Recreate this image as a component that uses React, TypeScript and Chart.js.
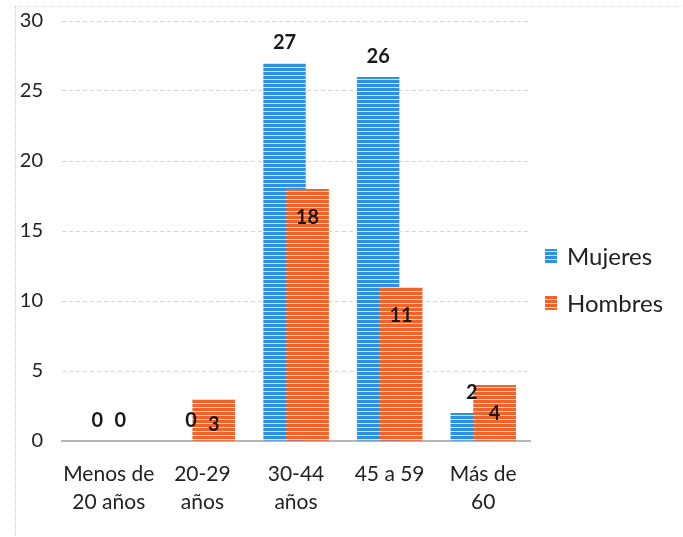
import React, { useEffect, useRef } from "react";
import { Chart, registerables } from "chart.js";

Chart.register(...registerables);

// Age groups (multi-line tick labels)
const categories: string[][] = [
  ["Menos de", "20 años"],
  ["20-29", "años"],
  ["30-44", "años"],
  ["45 a 59"],
  ["Más de", "60"],
];
const mujeres = [0, 0, 27, 26, 2];
const hombres = [0, 3, 18, 11, 4];
const seriesNames = ["Mujeres", "Hombres"];
const yMax = 30;
const yStep = 5;

const BLUE = "#2e8fe4";
const BLUE_LIGHT = "#cfe5f8";
const ORANGE = "#f2622a";
const ORANGE_LIGHT = "#fbd6c4";
const FONT = "Lato, 'Open Sans', sans-serif";

// Horizontal striped fill
function stripes(color: string, light: string): CanvasPattern | string {
  const c = document.createElement("canvas");
  c.width = 4;
  c.height = 4;
  const g = c.getContext("2d");
  if (!g) return color;
  g.fillStyle = light;
  g.fillRect(0, 0, 4, 4);
  g.fillStyle = color;
  g.fillRect(0, 0, 4, 3);
  const p = g.createPattern(c, "repeat");
  return p || color;
}

// Second series overlaps the first one: paint its bars again on top
const frontSeries = {
  id: "frontSeries",
  afterDatasetsDraw(chart: any) {
    const ctx = chart.ctx;
    const meta = chart.getDatasetMeta(1);
    ctx.save();
    ctx.beginPath();
    ctx.rect(
      chart.chartArea.left,
      chart.chartArea.top,
      chart.chartArea.right - chart.chartArea.left,
      chart.chartArea.bottom - chart.chartArea.top
    );
    ctx.clip();
    meta.data.forEach((el: any) => el.draw(ctx));
    ctx.restore();
  },
};

const valueLabels = {
  id: "valueLabels",
  afterDatasetsDraw(chart: any) {
    const ctx = chart.ctx;
    ctx.save();
    ctx.font = `bold 20px ${FONT}`;
    ctx.fillStyle = "#1a1a1a";
    ctx.textAlign = "center";
    ctx.textBaseline = "middle";
    chart.data.datasets.forEach((ds: any, di: number) => {
      const meta = chart.getDatasetMeta(di);
      meta.data.forEach((el: any, i: number) => {
        const v = ds.data[i];
        let y: number;
        if (di === 0 || v === 0) {
          y = el.y - 20;
        } else {
          y = Math.min(el.y + 29, el.base - 16);
        }
        ctx.fillText(String(v), el.x, y);
      });
    });
    ctx.restore();
  },
};

const sideLegend = {
  id: "sideLegend",
  afterDraw(chart: any) {
    const { ctx, chartArea } = chart;
    const mid = (chartArea.top + chartArea.bottom) / 2;
    const x = chartArea.right + 15;
    ctx.save();
    ctx.font = `24px ${FONT}`;
    ctx.textBaseline = "middle";
    ctx.textAlign = "left";
    chart.data.datasets.forEach((ds: any, i: number) => {
      const cy = mid + 25 + i * 47;
      ctx.fillStyle = ds.backgroundColor;
      ctx.fillRect(x, cy - 7, 12, 14);
      ctx.fillStyle = "#222";
      ctx.fillText(seriesNames[i], x + 22, cy + 1);
    });
    ctx.restore();
  },
};

export default function App() {
  const ref = useRef<HTMLCanvasElement>(null);

  useEffect(() => {
    if (!ref.current) return;
    const chart = new Chart(ref.current, {
      type: "bar",
      data: {
        labels: categories,
        datasets: [
          {
            label: seriesNames[0],
            data: mujeres,
            backgroundColor: stripes(BLUE, BLUE_LIGHT) as any,
            borderWidth: 0,
            categoryPercentage: 0.49,
            barPercentage: 1.85,
          },
          {
            label: seriesNames[1],
            data: hombres,
            backgroundColor: stripes(ORANGE, ORANGE_LIGHT) as any,
            borderWidth: 0,
            categoryPercentage: 0.49,
            barPercentage: 1.85,
          },
        ],
      },
      options: {
        responsive: false,
        animation: false,
        layout: { padding: { top: 21, right: 153, left: 0, bottom: 0 } },
        plugins: {
          legend: { display: false },
          tooltip: { enabled: false },
        },
        scales: {
          x: {
            grid: { display: false },
            border: { display: true, color: "#b5b5b5", width: 2 },
            ticks: {
              color: "#222",
              font: { family: FONT, size: 21, lineHeight: 1.3 },
              padding: 12,
              maxRotation: 0,
              autoSkip: false,
            },
            afterFit: (s: any) => {
              s.height = 96;
            },
          },
          y: {
            min: 0,
            max: yMax,
            ticks: {
              stepSize: yStep,
              color: "#222",
              font: { family: FONT, size: 20 },
              padding: 19,
            },
            grid: {
              color: "#d6d6d6",
              lineWidth: 1,
              drawTicks: false,
            },
            border: { display: false, dash: [4, 3] },
            afterFit: (s: any) => {
              s.width = 62;
              s.paddingTop = 0;
              s.paddingBottom = 0;
            },
          },
        },
      },
      plugins: [frontSeries, valueLabels, sideLegend],
    });
    return () => chart.destroy();
  }, []);

  return (
    <div
      style={{
        position: "fixed",
        left: 0,
        top: 0,
        width: 683,
        height: 537,
        background: "#fff",
      }}
    >
      <div
        style={{
          position: "absolute",
          left: 15,
          top: 6,
          width: 668,
          height: 531,
          borderLeft: "1px dotted #c8c8c8",
          borderTop: "1px dotted #dcdcdc",
        }}
      />
      <canvas
        ref={ref}
        width={683}
        height={537}
        style={{ position: "absolute", left: 0, top: 0 }}
      />
    </div>
  );
}
